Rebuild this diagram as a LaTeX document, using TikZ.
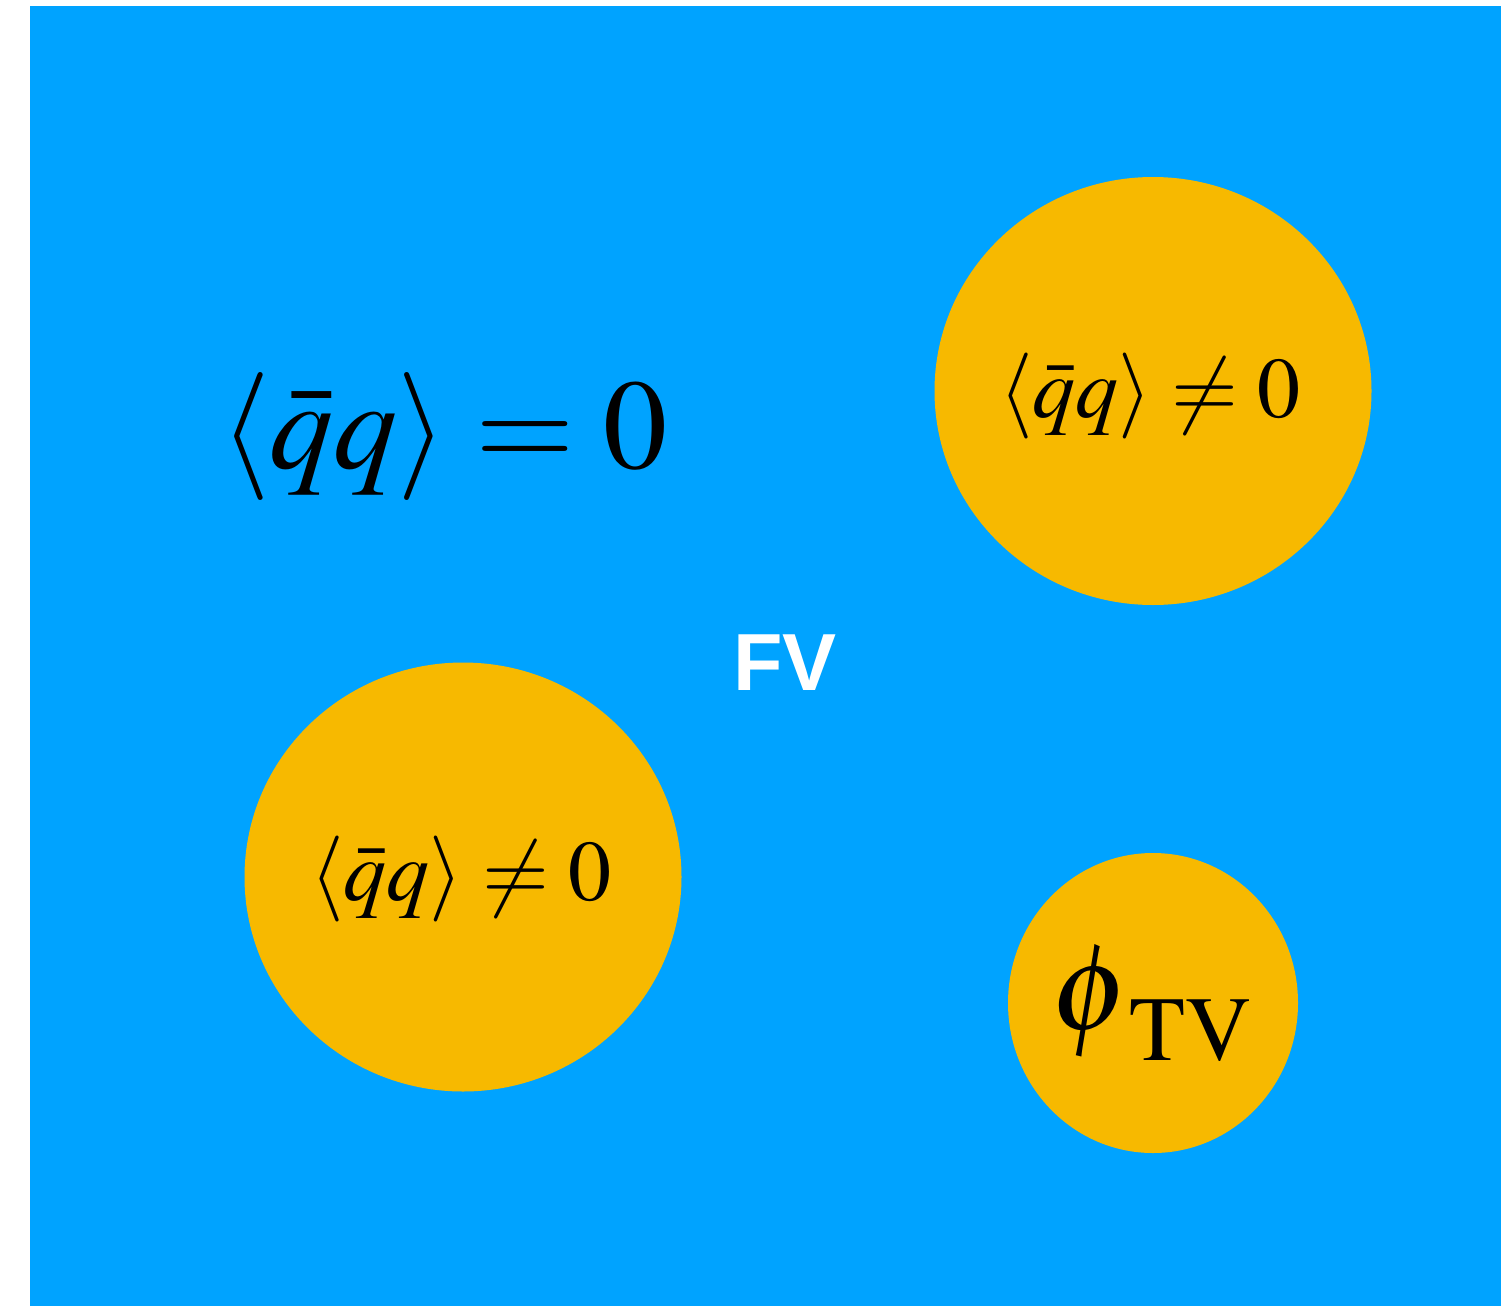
\documentclass[tikz,border=0pt]{standalone}
\usepackage{mathptmx}
\usepackage{fontspec}
\setmainfont{Liberation Serif}
\setsansfont{Liberation Sans}
\definecolor{fvblue}{HTML}{00A3FF}
\definecolor{tvorange}{HTML}{F7B900}
\tikzset{
  bubble/.style={fill=tvorange, draw=none},
  bigtxt/.style={anchor=base, inner sep=0pt, font=\fontsize{128}{130}\selectfont},
  smalltxt/.style={anchor=base, inner sep=0pt, font=\fontsize{86}{90}\selectfont},
  fvtxt/.style={anchor=base, inner sep=0pt, text=white, font=\sffamily\bfseries\fontsize{81}{85}\selectfont}
}
\begin{document}
\begin{tikzpicture}[x=1pt,y=-1pt]
\useasboundingbox (0,0) rectangle (1501,1306);
\fill[fvblue] (30,6) rectangle (1501,1306);
\fill[bubble] (1153,391) ellipse [x radius=218.5, y radius=214];
\fill[bubble] (463,877) ellipse [x radius=218.5, y radius=214.5];
\fill[bubble] (1153,1003) ellipse [x radius=145, y radius=150];
\node[bigtxt] (vac) at (444,468) {$\langle\bar q q\rangle = 0$};
\node[smalltxt] (b1) at (1150,417) {$\langle\bar q q\rangle \neq 0$};
\node[smalltxt] (b2) at (461,900) {$\langle\bar q q\rangle \neq 0$};
\node[anchor=base, inner sep=0pt, font=\fontsize{124}{130}\selectfont] (tv) at (1152,1029) {$\phi_{\hspace{14pt}\raisebox{-13pt}{$\scriptstyle\mathrm{TV}$}}$};
\node[fvtxt] (fv) at (785,690) {FV};
\end{tikzpicture}
\end{document}
